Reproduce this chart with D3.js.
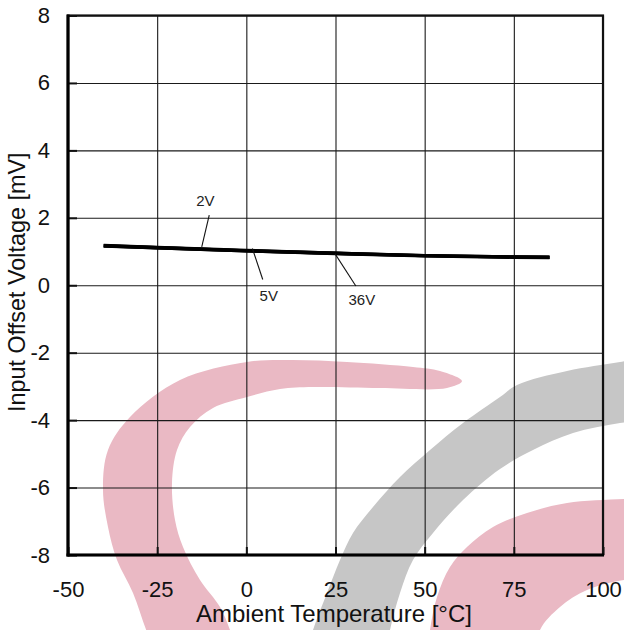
<!DOCTYPE html>
<html>
<head>
<meta charset="utf-8">
<script src="https://cdn.jsdelivr.net/npm/d3@7"></script>
<style>
  html, body { margin: 0; padding: 0; background: #fff; }
  svg { display: block; font-family: "Liberation Sans", Arial, sans-serif; }
</style>
</head>
<body>
<svg id="chart" width="624" height="630"></svg>
<script>
// ---- data ----
const temperatures = [-40, -25, 0, 25, 50, 75, 85];
const vdd2V  = [1.18, 1.12, 1.03, 0.95, 0.88, 0.84, 0.83];
const vdd5V  = [1.17, 1.11, 1.02, 0.95, 0.88, 0.84, 0.83];
const vdd36V = [1.16, 1.11, 1.02, 0.94, 0.87, 0.83, 0.82];
const seriesNames = ["2V", "5V", "36V"];
const xTicks = [-50, -25, 0, 25, 50, 75, 100];
const yTicks = [-8, -6, -4, -2, 0, 2, 4, 6, 8];
// annotation leaders in data units: [t, v]
const labelNames = ["2V", "5V", "36V"];
const leaderFrom = [[-10.4, 2.08], [1.7, 1.09], [24.9, 0.93]];
const leaderTo   = [[-12.5, 1.14], [4.6, 0.17], [30.7, -0.02]];
const labelAt    = [[-11.5, 2.34], [6.3, -0.47], [32.4, -0.59]];

(function () {
// ---- layout ----
const mLeft = 68, mRight = 603, mTop = 15.5, mBottom = 555;
const svg = d3.select("#chart");

const x = d3.scaleLinear().domain([-50, 100]).range([mLeft, mRight]);
const y = d3.scaleLinear().domain([-8, 8]).range([mBottom, mTop]);
const fmt = d => String(d); // plain hyphen-minus like the reference

// ---- background watermark (decorative, pixel space) ----
const wm = svg.append("g").attr("class", "watermark");
const blob = d3.line().curve(d3.curveCatmullRomClosed.alpha(0.5));
const pinkC = [[462,381],[440,371],[413,367],[347,362],[290,360],[247,362],[180,380],[130,417],[108,450],[103,490],[108,527],[117,560],[133,593],[147,632],[160,660],[240,660],[230,630],[220,607],[200,580],[183,547],[175,520],[172,483],[177,450],[190,427],[213,408],[247,397],[280,389],[313,387],[380,388],[447,388]];
const gray = [[660,355],[620,362],[567,371],[517,385],[500,397],[463,423],[430,450],[400,477],[373,507],[353,533],[340,560],[327,593],[313,630],[305,660],[385,660],[390,630],[400,593],[413,560],[433,533],[463,500],[500,469],[533,450],[573,433],[620,423],[660,418]];
const pink2 = [[660,498],[624,499],[567,503],[527,513],[493,527],[467,547],[450,567],[437,597],[430,630],[427,660],[535,660],[540,630],[560,607],[587,590],[624,580],[660,578]];
wm.append("path").attr("d", blob(gray)).attr("fill", "#c6c6c6");
wm.append("path").attr("d", blob(pinkC)).attr("fill", "#eab9c4");
wm.append("path").attr("d", blob(pink2)).attr("fill", "#eab9c4");

// ---- grid ----
const grid = svg.append("g").attr("class", "grid");
grid.append("g")
  .attr("transform", `translate(0,${mBottom})`)
  .call(d3.axisBottom(x).tickValues(xTicks).tickSize(-(mBottom - mTop)).tickFormat(""))
  .call(g => g.select(".domain").remove())
  .call(g => g.selectAll("line").attr("stroke", "#1a1a1a").attr("stroke-width", 1.1));
grid.append("g")
  .attr("transform", `translate(${mLeft},0)`)
  .call(d3.axisLeft(y).tickValues(yTicks).tickSize(-(mRight - mLeft)).tickFormat(""))
  .call(g => g.select(".domain").remove())
  .call(g => g.selectAll("line").attr("stroke", "#1a1a1a").attr("stroke-width", 1.1));

// ---- axes with labels and short inner ticks ----
const xAxis = svg.append("g")
  .attr("transform", `translate(0,${mBottom})`)
  .call(d3.axisBottom(x).tickValues(xTicks).tickSize(-8).tickPadding(26).tickFormat(fmt));
xAxis.select(".domain").remove();
xAxis.selectAll("line").attr("stroke", "#111").attr("stroke-width", 2);
xAxis.selectAll("text").attr("font-size", 22).attr("fill", "#111")
  .attr("font-family", "'Liberation Sans', Arial, sans-serif");

const yAxis = svg.append("g")
  .attr("transform", `translate(${mLeft},0)`)
  .call(d3.axisLeft(y).tickValues(yTicks).tickSize(-9).tickPadding(18).tickFormat(fmt));
yAxis.select(".domain").remove();
yAxis.selectAll("line").attr("stroke", "#111").attr("stroke-width", 2);
yAxis.selectAll("text").attr("font-size", 22).attr("fill", "#111")
  .attr("font-family", "'Liberation Sans', Arial, sans-serif");

// ---- frame ----
svg.append("rect")
  .attr("x", mLeft).attr("y", mTop)
  .attr("width", mRight - mLeft).attr("height", mBottom - mTop)
  .attr("fill", "none").attr("stroke", "#111").attr("stroke-width", 2.2);
svg.append("line").attr("x1", mLeft).attr("x2", mLeft).attr("y1", mTop - 1).attr("y2", mBottom + 1.5)
  .attr("stroke", "#000").attr("stroke-width", 3.2);
svg.append("line").attr("x1", mLeft - 1.5).attr("x2", mRight + 1).attr("y1", mBottom).attr("y2", mBottom)
  .attr("stroke", "#000").attr("stroke-width", 3.2);

// ---- data lines ----
const allSeries = [vdd2V, vdd5V, vdd36V];
const line = d3.line().x(d => x(d[0])).y(d => y(d[1])).curve(d3.curveMonotoneX);
svg.append("g").attr("class", "series")
  .selectAll("path")
  .data(allSeries.map((vals, i) => ({ name: seriesNames[i], pts: temperatures.map((t, j) => [t, vals[j]]) })))
  .join("path")
  .attr("d", d => line(d.pts))
  .attr("fill", "none")
  .attr("stroke", "#000")
  .attr("stroke-width", 3.4)
  .attr("stroke-linecap", "butt");

// ---- annotations ----
const ann = svg.append("g").attr("class", "annotations");
labelNames.forEach((name, i) => {
  ann.append("line")
    .attr("x1", x(leaderFrom[i][0])).attr("y1", y(leaderFrom[i][1]))
    .attr("x2", x(leaderTo[i][0])).attr("y2", y(leaderTo[i][1]))
    .attr("stroke", "#111").attr("stroke-width", 1.1);
  ann.append("text")
    .attr("x", x(labelAt[i][0])).attr("y", y(labelAt[i][1]))
    .attr("text-anchor", "middle")
    .attr("font-size", 15).attr("fill", "#222")
    .text(name);
});

// ---- axis titles ----
svg.append("text")
  .attr("x", (mLeft + mRight) / 2 - 1.5).attr("y", 622)
  .attr("text-anchor", "middle").attr("font-size", 24).attr("fill", "#111")
  .text("Ambient Temperature [°C]");
svg.append("text")
  .attr("transform", `translate(25,${(mTop + mBottom) / 2 - 3}) rotate(-90)`)
  .attr("text-anchor", "middle").attr("font-size", 23.4).attr("fill", "#111")
  .text("Input Offset Voltage [mV]");
})();
</script>
</body>
</html>
